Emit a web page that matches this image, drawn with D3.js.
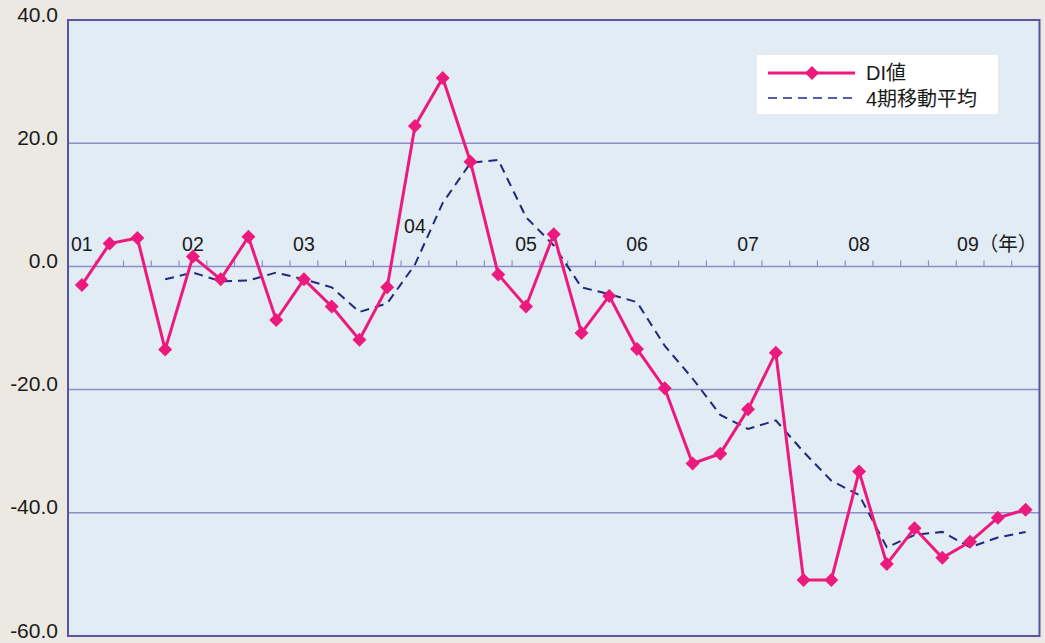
<!DOCTYPE html>
<html>
<head>
<meta charset="utf-8">
<script src="https://cdn.jsdelivr.net/npm/d3@7"></script>
<style>
  body { margin: 0; background: #ece9e2; }
  svg { display: block; font-family: "Liberation Sans", Arial, sans-serif; }
</style>
</head>
<body>
<div id="vis"></div>
<script>
// set frame size and plot margins
const FRAME_WIDTH = 1045;
const FRAME_HEIGHT = 643;
const MARGINS = {left: 68, right: 5, top: 20, bottom: 5};

// quarterly data, 2001 Q1 .. 2009 Q3
const quarters = ["01Q1","01Q2","01Q3","01Q4","02Q1","02Q2","02Q3","02Q4",
  "03Q1","03Q2","03Q3","03Q4","04Q1","04Q2","04Q3","04Q4","05Q1","05Q2","05Q3","05Q4",
  "06Q1","06Q2","06Q3","06Q4","07Q1","07Q2","07Q3","07Q4","08Q1","08Q2","08Q3","08Q4",
  "09Q1","09Q2","09Q3"];
const diValues = [-3.0, 3.7, 4.6, -13.5, 1.6, -2.1, 4.8, -8.7, -2.1, -6.5, -11.9, -3.4,
  22.8, 30.6, 17.0, -1.3, -6.5, 5.2, -10.8, -4.8, -13.4, -19.8, -32.0, -30.4,
  -23.2, -14.0, -50.9, -50.9, -33.3, -48.3, -42.5, -47.3, -44.7, -40.8, -39.5];
// 4-quarter moving average (starts at 01Q4)
const maValues = [null, null, null, -2.1, -1.0, -2.4, -2.3, -1.0, -2.1, -3.4, -7.4, -6.0,
  0.3, 10.3, 16.8, 17.3, 8.0, 3.4, -3.4, -4.5, -5.8, -12.9, -18.2, -24.1,
  -26.4, -25.0, -30.1, -34.8, -37.1, -45.6, -43.6, -43.1, -45.6, -44.0, -43.1];
const yTicks = [40, 20, 0, -20, -40, -60];
const yearLabels = [
  {q: "01Q1", text: "01"}, {q: "02Q1", text: "02"}, {q: "03Q1", text: "03"},
  {q: "04Q1", text: "04"}, {q: "05Q1", text: "05"}, {q: "06Q1", text: "06"},
  {q: "07Q1", text: "07"}, {q: "08Q1", text: "08"}, {q: "09Q1", text: "09（年）"}
];
const legendLabels = ["DI値", "4期移動平均"];

const VIS_WIDTH = FRAME_WIDTH - MARGINS.left - MARGINS.right;
const VIS_HEIGHT = FRAME_HEIGHT - MARGINS.top - MARGINS.bottom;

const svg = d3.select("#vis").append("svg")
  .attr("width", FRAME_WIDTH)
  .attr("height", FRAME_HEIGHT);

// scales
const X_SCALE = d3.scaleBand().domain(quarters).range([MARGINS.left, MARGINS.left + VIS_WIDTH - 0.5]);
const Y_SCALE = d3.scaleLinear().domain([-60, 40]).range([MARGINS.top + VIS_HEIGHT - 2, MARGINS.top]);
const cx = (q) => X_SCALE(q) + X_SCALE.bandwidth() / 2;

// plot background
svg.append("rect")
  .attr("x", MARGINS.left).attr("y", MARGINS.top)
  .attr("width", VIS_WIDTH - 0.5).attr("height", Y_SCALE(-60) - MARGINS.top)
  .attr("fill", "#e2ecf4");

// gridlines
svg.append("g").selectAll("line")
  .data(yTicks.filter(d => d !== 40 && d !== -60))
  .enter().append("line")
    .attr("x1", MARGINS.left).attr("x2", MARGINS.left + VIS_WIDTH - 0.5)
    .attr("y1", d => Y_SCALE(d)).attr("y2", d => Y_SCALE(d))
    .attr("stroke", "#8d8dc6").attr("stroke-width", 1.5);

// small ticks above the zero line, at quarter boundaries
svg.append("g").selectAll("line")
  .data(quarters.slice(1))
  .enter().append("line")
    .attr("x1", d => X_SCALE(d)).attr("x2", d => X_SCALE(d))
    .attr("y1", Y_SCALE(0)).attr("y2", Y_SCALE(0) - 6)
    .attr("stroke", "#8d8dc6").attr("stroke-width", 1.2);

// frame
svg.append("rect")
  .attr("x", MARGINS.left).attr("y", MARGINS.top)
  .attr("width", VIS_WIDTH - 0.5).attr("height", Y_SCALE(-60) - MARGINS.top)
  .attr("fill", "none").attr("stroke", "#5555a5").attr("stroke-width", 2);

// y axis labels (plain hyphen for negatives, like the original)
const yAxis = svg.append("g")
  .attr("transform", "translate(" + (MARGINS.left - 7) + ",0)")
  .call(d3.axisLeft(Y_SCALE).tickValues(yTicks).tickFormat(d => d.toFixed(1)).tickSize(0));
yAxis.select(".domain").remove();
yAxis.selectAll("text")
  .attr("font-size", "21px")
  .attr("fill", "#1a1a1a")
  .attr("font-family", "Liberation Sans, Arial, sans-serif")
  .attr("dy", "0.05em");

// year labels
svg.append("g").selectAll("text")
  .data(yearLabels)
  .enter().append("text")
    .attr("x", d => d.q === "09Q1" ? cx(d.q) - 13 : cx(d.q))
    .attr("y", d => d.q === "04Q1" ? Y_SCALE(0) - 33 : Y_SCALE(0) - 15)
    .attr("text-anchor", d => d.q === "09Q1" ? "start" : "middle")
    .attr("font-size", "19.5px")
    .attr("fill", "#1a1a1a")
    .attr("font-family", "Liberation Sans, 'Noto Sans CJK JP', sans-serif")
    .text(d => d.text);

// moving average line
const maLine = d3.line()
  .defined(d => d[1] !== null)
  .x(d => cx(d[0]))
  .y(d => Y_SCALE(d[1]));
svg.append("path")
  .datum(quarters.map((q, i) => [q, maValues[i]]))
  .attr("d", maLine)
  .attr("fill", "none")
  .attr("stroke", "#1e2a7a")
  .attr("stroke-width", 2)
  .attr("stroke-dasharray", "9,6");

// DI line
const diLine = d3.line().x(d => cx(d[0])).y(d => Y_SCALE(d[1]));
svg.append("path")
  .datum(quarters.map((q, i) => [q, diValues[i]]))
  .attr("d", diLine)
  .attr("fill", "none")
  .attr("stroke", "#ec1a7c")
  .attr("stroke-width", 3);

// square diamond marker
const diamond = "M0,-7L7,0L0,7L-7,0Z";
svg.append("g").selectAll("path")
  .data(quarters.map((q, i) => [q, diValues[i]]))
  .enter().append("path")
    .attr("d", diamond)
    .attr("transform", d => "translate(" + cx(d[0]) + "," + Y_SCALE(d[1]) + ")")
    .attr("fill", "#ec1a7c");

// legend
const legend = svg.append("g");
legend.append("rect")
  .attr("x", 757).attr("y", 55).attr("width", 241).attr("height", 59)
  .attr("fill", "#ffffff");
legend.append("line")
  .attr("x1", 768).attr("x2", 855).attr("y1", 73).attr("y2", 73)
  .attr("stroke", "#ec1a7c").attr("stroke-width", 3);
legend.append("path")
  .attr("d", diamond)
  .attr("transform", "translate(812,73)")
  .attr("fill", "#ec1a7c");
legend.append("line")
  .attr("x1", 768).attr("x2", 855).attr("y1", 98).attr("y2", 98)
  .attr("stroke", "#5a5aa8").attr("stroke-width", 2)
  .attr("stroke-dasharray", "9,6");
legend.selectAll("text")
  .data(legendLabels)
  .enter().append("text")
    .attr("x", 866)
    .attr("y", (d, i) => 80 + i * 26)
    .attr("font-size", "20px")
    .attr("fill", "#1a1a1a")
    .attr("font-family", "Liberation Sans, 'Noto Sans CJK JP', sans-serif")
    .text(d => d);
</script>
</body>
</html>
